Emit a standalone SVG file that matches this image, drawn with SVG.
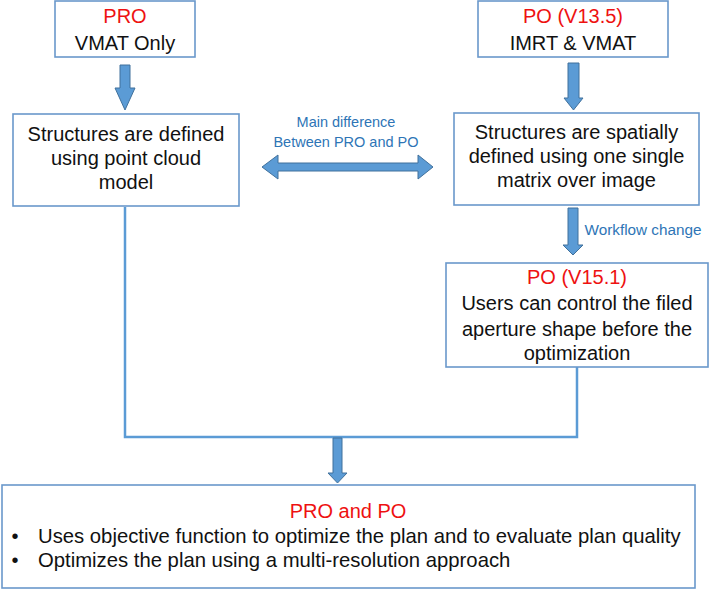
<svg xmlns="http://www.w3.org/2000/svg" width="709" height="590" viewBox="0 0 709 590">
<style>
.box{fill:#fff;stroke:#6a98cb;stroke-width:1.6}
.t{font-family:"Liberation Sans",Arial,sans-serif;font-size:20px;fill:#111;text-anchor:middle}
.r{fill:#ee1111}
.lbl{font-family:"Liberation Sans",Arial,sans-serif;fill:#2e75b6;text-anchor:middle}
.blk{fill:#5b9bd5;stroke:#41719c;stroke-width:1}
.ln{fill:none;stroke:#5b9bd5;stroke-width:2.5}
</style>
<rect width="709" height="590" fill="#fff"/>
<g id="connectors">
<polyline class="ln" points="125,207 125,437 577,437 577,367"/>
<polygon class="blk" points="120,65 130,65 130,88 135,88 125,110 115,88 120,88"/>
<polygon class="blk" points="568,63 579,63 579,98 583,98 573.5,110 564,98 568,98"/>
<polygon class="blk" points="568,208 578,208 578,245 583,245 573,255 563,245 568,245"/>
<polygon class="blk" points="333,438 342,438 342,473 347,473 337.5,483 328,473 333,473"/>
<polygon class="blk" points="262,167 278,155 278,163 418,163 418,155 433,167 418,179 418,171 278,171 278,179"/>
<text class="lbl" x="346" y="127" font-size="14.5">Main difference</text>
<text class="lbl" x="346" y="147" font-size="14.5">Between PRO and PO</text>
<text class="lbl" x="643" y="235" font-size="15.3">Workflow change</text>
</g>
<g id="pro">
<rect class="box" x="55" y="1" width="140" height="56"/>
<text class="t r" x="125" y="23">PRO</text>
<text class="t" x="125" y="50">VMAT Only</text>
</g>
<g id="po135">
<rect class="box" x="478" y="1" width="190" height="56"/>
<text class="t r" x="573" y="23">PO (V13.5)</text>
<text class="t" x="573" y="50">IMRT &amp; VMAT</text>
</g>
<g id="pointcloud">
<rect class="box" x="13" y="114" width="226" height="92"/>
<text class="t" x="126" y="141">Structures are defined</text>
<text class="t" x="126" y="165">using point cloud</text>
<text class="t" x="126" y="189">model</text>
</g>
<g id="matrix">
<rect class="box" x="454" y="113" width="245" height="92"/>
<text class="t" x="576.5" y="139">Structures are spatially</text>
<text class="t" x="576.5" y="163">defined using one single</text>
<text class="t" x="576.5" y="187">matrix over image</text>
</g>
<g id="po151">
<rect class="box" x="446" y="263" width="262" height="104"/>
<text class="t r" x="577" y="284">PO (V15.1)</text>
<text class="t" x="577" y="310">Users can control the filed</text>
<text class="t" x="577" y="336">aperture shape before the</text>
<text class="t" x="577" y="360">optimization</text>
</g>
<g id="both">
<rect class="box" x="2" y="485" width="693" height="103"/>
<text class="t r" x="348" y="518">PRO and PO</text>
<text class="t" x="15" y="543">•</text>
<text class="t" x="38" y="543" style="text-anchor:start;font-size:20.3px">Uses objective function to optimize the plan and to evaluate plan quality</text>
<text class="t" x="15" y="567">•</text>
<text class="t" x="38" y="567" style="text-anchor:start;font-size:20.3px">Optimizes the plan using a multi-resolution approach</text>
</g>
</svg>
